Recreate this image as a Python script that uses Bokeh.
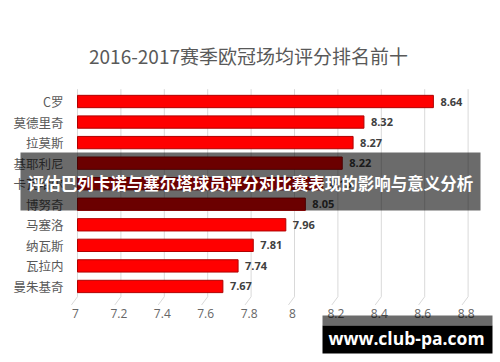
from bokeh.plotting import figure
from bokeh.models import Range1d, Label, BoxAnnotation, ColumnDataSource
from bokeh.embed import file_html
from bokeh.resources import INLINE
from bokeh.core.properties import value

title_text = "2016-2017赛季欧冠场均评分排名前十"
players = ["C罗", "莫德里奇", "拉莫斯", "基耶利尼", "卡瓦哈尔", "博努奇", "马塞洛", "纳瓦斯", "瓦拉内", "曼朱基奇"]
ratings = [8.64, 8.32, 8.27, 8.22, 8.13, 8.05, 7.96, 7.81, 7.74, 7.67]
tick_values = [7, 7.2, 7.4, 7.6, 7.8, 8, 8.2, 8.4, 8.6, 8.8]
tick_labels = ["7", "7.2", "7.4", "7.6", "7.8", "8", "8.2", "8.4", "8.6", "8.8"]
banner_text = "评估巴列卡诺与塞尔塔球员评分对比赛表现的影响与意义分析"
watermark_text = "www.club-pa.com"

CJK = "Noto Sans CJK SC"
BASE = tick_values[0]
n = len(players)
rows = list(range(n))
bottom_edge = n - 0.5
top_edge = -0.5

bars = ColumnDataSource(dict(
    row=rows, rating=ratings, label=["%.2f" % r for r in ratings], player=players,
    base=[BASE] * n,
))
ticks = ColumnDataSource(dict(
    x=tick_values, text=tick_labels,
    y_top=[top_edge - 0.1] * len(tick_values), y_bot=[bottom_edge] * len(tick_values),
    x_tail=[t - 0.028 for t in tick_values], y_tail=[bottom_edge + 0.4] * len(tick_values),
))

# The plot frame fills the whole canvas so that overlays are not clipped;
# x: value 7 sits at 77 px, 0.2 per 43.4 px; y: rows at 101 px + 20.55 px each.
px_per_x = 43.4 / 0.2
px_per_row = 20.55
p = figure(
    width=500, height=362,
    x_range=Range1d(BASE - 77 / px_per_x, BASE + 423 / px_per_x),
    y_range=Range1d((362 - 101) / px_per_row, -101 / px_per_row),
    x_axis_location=None, y_axis_location=None,
    output_backend="svg", toolbar_location=None,
    min_border=0,
)
p.background_fill_color = "white"
p.border_fill_color = "white"
p.outline_line_color = None
p.xgrid.visible = False
p.ygrid.visible = False

# grid lines (with the small 3D floor tails)
p.segment(x0="x", y0="y_top", x1="x", y1="y_bot", source=ticks,
          line_color="#d9d9d9", line_width=1)
p.segment(x0="x", y0="y_bot", x1="x_tail", y1="y_tail", source=ticks,
          line_color="#d9d9d9", line_width=1)

p.hbar(y="row", left="base", right="rating", height=0.6, source=bars,
       fill_color="#ff0000", line_color="#b00000", line_width=1)

p.text(x="rating", y="row", text="label", source=bars,
       x_offset=7, text_baseline="middle", text_align="left",
       text_font=value("Open Sans"), text_font_style="bold",
       text_font_size="11px", text_color="#404040")

# category labels
p.text(x="base", y="row", text="player", source=bars,
       x_offset=-14, text_baseline="middle", text_align="right",
       text_font=value(CJK), text_font_size="12.5px", text_color="#595959")

# x tick labels
p.text(x="x", y="y_bot", text="text", source=ticks,
       x_offset=-2, y_offset=17, text_baseline="middle", text_align="center",
       text_font=value("Open Sans"), text_font_size="12px", text_color="#666666")

def box(l, r, t, b, alpha):
    p.add_layout(BoxAnnotation(left=l, right=r, top=t, bottom=b,
                               left_units="canvas", right_units="canvas",
                               top_units="canvas", bottom_units="canvas",
                               fill_color="black", fill_alpha=alpha, line_color=None))

def label(x, y, text, font, size, color, style="normal"):
    p.add_layout(Label(x=x, y=y, x_units="canvas", y_units="canvas", text=text,
                       text_align="center", text_baseline="middle", text_font=font,
                       text_font_style=style, text_font_size=size, text_color=color))

label(248, 55, title_text, CJK, "19px", "#595959")
box(20, 480, 152, 210, 0.58)
label(250, 182, banner_text, CJK, "16.5px", "white", "bold")
box(322, 492, 315, 325, 0.58)
box(322, 492, 325, 353, 1.0)
label(406, 337, watermark_text, "Open Sans", "17.5px", "white", "bold")

open("out.html", "w").write(file_html(p, INLINE))
